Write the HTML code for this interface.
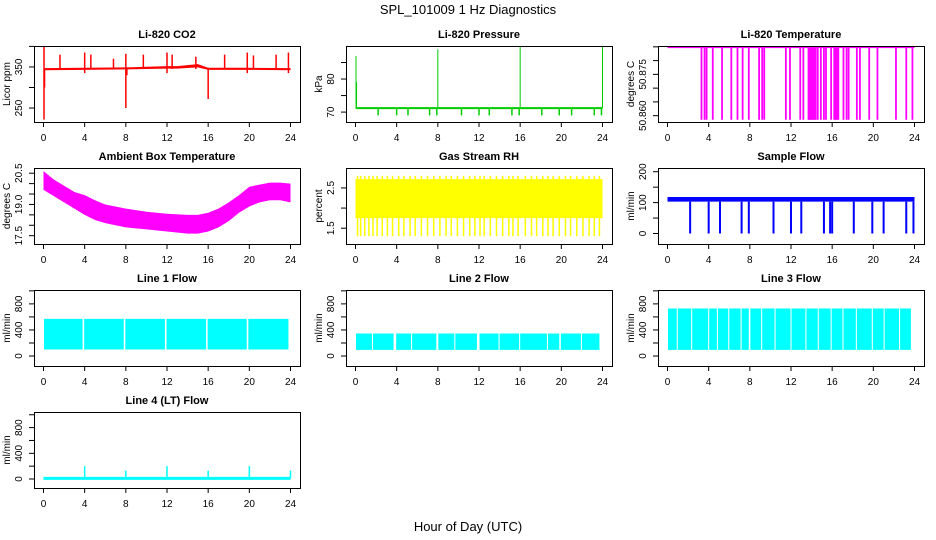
<!DOCTYPE html>
<html><head><meta charset="utf-8"><style>
html,body{margin:0;padding:0;background:#fff;}
svg{display:block;font-family:"Liberation Sans",sans-serif;}
</style></head><body>
<svg id="c" width="936" height="540" viewBox="0 0 936 540">
<text x="468" y="14" text-anchor="middle" font-size="13">SPL_101009  1 Hz Diagnostics</text>
<text x="468" y="531" text-anchor="middle" font-size="13">Hour of Day (UTC)</text>
</svg>
<script>
// ---- data ----
const xTicks = [0,4,8,12,16,20,24];
// CO2
const co2BandHours = [0,4,8,12,13,15,16,20,24];
const co2BandLow   = [342,343,344,346,346,349,343,343,342];
const co2BandHigh  = [347,348,349,352,352,357,348,348,347];
const co2Spikes = [[0.05,222,401],[0.1,300,345],[1.6,345,380],[4.0,335,385],[4.6,345,380],[6.8,345,370],[8.0,250,382],[8.1,330,345],[9.7,345,380],[12.0,335,385],[12.5,345,380],[14.8,345,375],[16.0,272,345],[17.6,345,380],[19.8,335,385],[20.4,345,378],[22.6,345,380],[23.8,335,385]];
// Pressure
const presBase = 71.2;
const presDips = [2.2,4.0,5.1,7.2,7.9,10.3,12.0,13.0,15.2,15.9,18.1,19.8,21.0,23.2,23.9];
const presSpikes = [[0.05,87],[0.1,79],[8.0,89],[16.0,90],[24.0,90]];
// Li-820 temperature
const ltTop = 50.8848;
const ltBottom = 50.8585;
const ltDrops = [3.3,3.6,3.8,4.4,5.3,6.2,6.8,7.3,7.9,8.9,9.2,9.4,11.5,11.9,12.9,13.2,13.7,13.8,13.9,14.0,14.1,14.2,14.3,14.4,14.6,14.9,15.2,15.4,15.9,16.2,16.3,16.4,16.5,16.6,17.1,17.4,17.6,18.4,18.7,19.6,20.4,22.2,23.2,23.8];
// Ambient box temperature
const ambHours = [0,1,2,3,4,5,6,8,10,12,14,15,16,17,18,19,20,21,22,23,24];
const ambHigh  = [20.6,20.2,19.9,19.6,19.45,19.2,19.0,18.8,18.65,18.55,18.5,18.5,18.6,18.8,19.1,19.45,19.85,19.95,20.05,20.05,20.0];
const ambLow   = [19.7,19.4,19.1,18.8,18.5,18.25,18.1,17.9,17.8,17.7,17.6,17.6,17.7,17.9,18.2,18.6,18.9,19.1,19.2,19.2,19.1];
// RH
const rhHours = [0,24];
const rhHigh = [2.72,2.72];
const rhLow = [1.75,1.75];
const rhSpikes = [0.2,0.5,0.9,1.3,1.7,2.1,2.6,3.1,3.6,4.2,4.7,5.3,5.8,6.4,7.0,7.6,8.2,8.8,9.3,9.9,10.5,11.1,11.6,12.1,12.5,13.1,13.7,14.3,14.9,15.3,15.8,16.5,17.1,17.6,18.2,18.7,19.2,19.8,20.4,20.9,21.5,22.1,22.7,23.2,23.7];
// Sample flow
const sfLow = 103, sfHigh = 118;
const sfDips = [2.2,4.0,5.1,7.2,7.9,10.3,12.0,13.0,15.2,15.8,16.0,18.1,19.9,21.0,23.2,23.9];
// Line flows
const l1Segments = [[0.05,3.8],[3.95,7.8],[7.95,11.8],[11.95,15.8],[15.95,19.75],[19.9,23.8]];
const l1Low = 100, l1High = 570;
const l2Segments = [[0.05,1.6],[1.7,3.7],[3.95,5.4],[5.5,7.85],[8.05,9.6],[9.7,11.8],[12.05,13.9],[14.0,15.9],[16.0,18.6],[18.7,19.8],[19.95,21.9],[22.0,23.7]];
const l2Low = 95, l2High = 345;
const l3Segments = [[0.05,0.9],[1.0,2.3],[2.4,3.95],[4.05,4.8],[4.9,5.9],[6.0,7.1],[7.2,7.9],[8.05,9.1],[9.2,10.4],[10.5,11.95],[12.05,13.4],[13.5,14.6],[14.7,15.85],[15.95,17.0],[17.1,18.3],[18.4,19.85],[19.95,21.0],[21.1,22.5],[22.6,23.65]];
const l3Low = 95, l3High = 730;
const l4Base = 10;
const l4Spikes = [[4.0,200],[8.0,130],[12.0,200],[16.0,130],[20.0,200],[24.0,130]];

const S = document.getElementById('c');
const NS = 'http://www.w3.org/2000/svg';
function mk(tag, attrs, parent){
  const e = document.createElementNS(NS, tag);
  for (const k in attrs) e.setAttribute(k, attrs[k]);
  (parent||S).appendChild(e);
  return e;
}
const colL = [34,346,658], rowT = [46,168,290,412], W = 266, H = 76;

function panel(col,row,title,ylab,dom,ticks,labels,name){
  const L = colL[col], T = rowT[row];
  const g = mk('g',{});
  
  
  const x = h => L + 9.5 + h/24*247;
  const y = v => T + H - (v-dom[0])/(dom[1]-dom[0])*H;
  const cp = 'cp'+name;
  const clip = mk('clipPath',{id:cp},g);
  mk('rect',{x:L,y:T,width:W,height:H},clip);
  const plot = mk('g',{'clip-path':'url(#'+cp+')'},g);
  
  
  const box = mk('rect',{x:L+0.5,y:T+0.5,width:W,height:H,fill:'none',stroke:'#000','stroke-width':1},g);
  
  
  const t = mk('text',{x:L+W/2,y:T-8,'text-anchor':'middle','font-size':11,'font-weight':'bold'},g);
  
  
  t.textContent = title;
  xTicks.forEach(h=>{
    mk('line',{x1:x(h),x2:x(h),y1:T+H,y2:T+H+5,stroke:'#000'},g);
    const tl = mk('text',{x:x(h),y:T+H+19,'text-anchor':'middle','font-size':10},g);
    
    
    tl.textContent = h;
  });
  ticks.forEach((v,i)=>{
    mk('line',{x1:L-5,x2:L,y1:y(v),y2:y(v),stroke:'#000'},g);
    if (labels[i]!==''){
      const yl = mk('text',{x:0,y:0,'text-anchor':'middle','font-size':10,transform:'translate('+(L-12)+','+y(v)+') rotate(-90)'},g);
      
      
      yl.textContent = labels[i];
    }
  });
  const yt = mk('text',{x:0,y:0,'text-anchor':'middle','font-size':10,transform:'translate('+(L-24)+','+(T+H/2)+') rotate(-90)'},g);
  
  
  yt.textContent = ylab;
  return {x,y,plot};
}
function band(p,hours,low,high,color){
  let d='M'+hours.map((h,i)=>p.x(h)+','+p.y(high[i])).join('L');
  for(let i=hours.length-1;i>=0;i--) d+='L'+p.x(hours[i])+','+p.y(low[i]);
  mk('path',{d:d+'Z',fill:color,stroke:'none'},p.plot);
}
function vline(p,h,a,b,color,w){
  mk('line',{x1:p.x(h),x2:p.x(h),y1:p.y(a),y2:p.y(b),stroke:color,'stroke-width':w||1.5},p.plot);
}

// CO2
let p = panel(0,0,'Li-820 CO2','Licor ppm',[216,401],[250,300,350,400],['250','','350',''],'co2');
band(p,co2BandHours,co2BandLow,co2BandHigh,'#ff0000');
co2Spikes.forEach(s=>vline(p,s[0],s[1],s[2],'#ff0000'));
// Pressure
p = panel(1,0,'Li-820 Pressure','kPa',[67,90],[70,75,80,85],['70','','80',''],'pressure');
mk('line',{x1:p.x(0),x2:p.x(24),y1:p.y(presBase),y2:p.y(presBase),stroke:'#00cc00','stroke-width':2},p.plot);
presDips.forEach(h=>vline(p,h,69,presBase,'#00cc00'));
presSpikes.forEach(s=>vline(p,s[0],presBase,s[1],'#00cc00',1));
// Li temp
p = panel(2,0,'Li-820 Temperature','degrees C',[50.8577,50.8853],[50.860,50.865,50.870,50.875,50.880,50.885],['50.860','','','50.875','',''],'li820-temp');
mk('line',{x1:p.x(0),x2:p.x(24),y1:p.y(ltTop),y2:p.y(ltTop),stroke:'#ff00ff','stroke-width':1.5},p.plot);
ltDrops.forEach(h=>vline(p,h,ltBottom,ltTop,'#ff00ff',1.8));
// Ambient
p = panel(0,1,'Ambient Box Temperature','degrees C',[17.1,20.75],[17.5,18,18.5,19,19.5,20,20.5],['17.5','','','19.0','','','20.5'],'ambient-temp');
band(p,ambHours,ambLow,ambHigh,'#ff00ff');
// RH
p = panel(1,1,'Gas Stream RH','percent',[1.108,2.995],[1.5,2.0,2.5],['1.5','','2.5'],'rh');
band(p,rhHours,rhLow,rhHigh,'#ffff00');
rhSpikes.forEach(h=>vline(p,h,1.3,2.8,'#ffff00'));
// Sample flow
p = panel(2,1,'Sample Flow','ml/min',[-34,212],[0,50,100,150,200],['0','','100','','200'],'sample-flow');
band(p,[0,24],[sfLow,sfLow],[sfHigh,sfHigh],'#0000ff');
sfDips.forEach(h=>vline(p,h,0,sfLow,'#0000ff',2));
// Lines
const fticks=[0,200,400,600,800,1000], flabs=['0','','400','','800',''];
[[0,'Line 1 Flow',l1Segments,l1Low,l1High,'line1-flow'],[1,'Line 2 Flow',l2Segments,l2Low,l2High,'line2-flow'],[2,'Line 3 Flow',l3Segments,l3Low,l3High,'line3-flow']].forEach(c=>{
  const q = panel(c[0],2,c[1],'ml/min',[-153,1013],fticks,flabs,c[5]);
  c[2].forEach(s=>band(q,[s[0],s[1]],[c[3],c[3]],[c[4],c[4]],'#00ffff'));
});
p = panel(0,3,'Line 4 (LT) Flow','ml/min',[-140,1043],fticks,flabs,'line4-flow');
mk('line',{x1:p.x(0),x2:p.x(24),y1:p.y(l4Base),y2:p.y(l4Base),stroke:'#00ffff','stroke-width':3},p.plot);
l4Spikes.forEach(s=>vline(p,s[0],l4Base,s[1],'#00ffff',1.5));
</script>
</body></html>
